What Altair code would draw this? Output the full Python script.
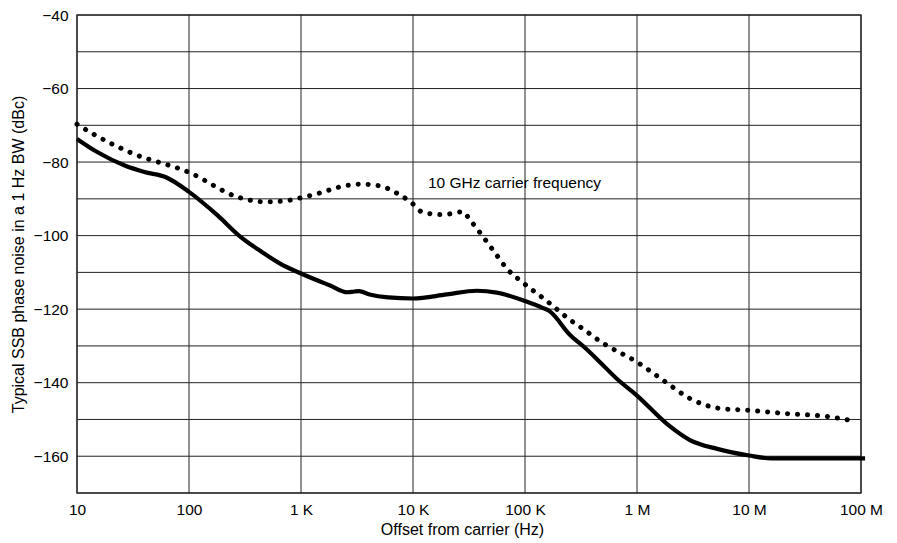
import altair as alt
import pandas as pd

# Solid curve (Hz, dBc)
solid_f = [10, 15, 27, 40, 63, 100, 180, 285, 450, 650, 1000, 1800, 2600, 3000, 3300,
           4100, 6000, 10000, 20000, 37000, 56000, 100000, 145000, 165000, 250000,
           355000, 470000, 664000, 1000000, 1850000, 2970000, 5200000, 10000000,
           16000000, 100000000, 108700000]
solid_v = [-73.7, -77.2, -81.0, -82.7, -84.2, -88.1, -94.5, -100.2, -104.5, -107.6,
           -110.3, -113.5, -115.4, -115.2, -115.1, -116.0, -116.8, -117.1, -116.0,
           -115.0, -115.5, -117.8, -119.7, -120.5, -126.9, -130.9, -134.5, -139.0,
           -143.5, -151.2, -155.6, -158.0, -159.8, -160.6, -160.6, -160.6]

# Dotted curve (Hz, dBc)
dot_f = [10, 15, 30, 100, 285, 475, 700, 1000, 1480, 2200, 3400, 5100, 7400, 9500,
         12300, 18600, 28000, 32000, 42000, 54000, 69000, 95000, 157000, 252000,
         310000, 500000, 1000000, 1780000, 2970000, 5500000, 10000000, 19600000,
         56000000, 85000000]
dot_v = [-69.7, -72.9, -77.4, -82.8, -89.7, -90.8, -90.6, -89.7, -88.4, -86.8, -86.0,
         -86.5, -88.7, -90.8, -93.7, -94.3, -93.5, -95.6, -100.2, -104.7, -109.0,
         -112.7, -117.8, -122.9, -124.8, -129.3, -134.4, -139.7, -144.3, -147.0,
         -147.5, -148.3, -149.4, -150.4]

x_ticks = [10, 100, 1000, 10000, 100000, 1000000, 10000000, 100000000]
x_labels = ["10", "100", "1 K", "10 K", "100 K", "1 M", "10 M", "100 M"]
y_grid = list(range(-170, -39, 10))
y_labels = list(range(-160, -39, 20))

note_text = ["10 GHz carrier frequency"]
note_f = [13600]
note_v = [-85.7]

FONT = "Liberation Sans Narrow, Liberation Sans, Arial"
LFS = 15.5
TFS = 16

solid = pd.DataFrame({"f": solid_f, "v": solid_v})
dotted = pd.DataFrame({"f": dot_f, "v": dot_v})
note = pd.DataFrame({"f": note_f, "v": note_v, "t": note_text})
hgrid = pd.DataFrame({"v": y_grid})
vgrid = pd.DataFrame({"f": x_ticks})

label_map = "{" + ",".join(f'"{v}":"{l}"' for v, l in zip(x_ticks, x_labels)) + "}"

x_scale = alt.Scale(type="log", domain=[10, 100000000], nice=False)
y_scale = alt.Scale(domain=[-170, -40], nice=False, zero=False)

H = 478

x_axis = alt.Axis(values=x_ticks, labelExpr=f"{label_map}[''+datum.value]",
                  grid=False, ticks=False, domain=False, labelPadding=9,
                  title="Offset from carrier (Hz)",
                  titleX=385, titleY=36, titleBaseline="middle",
                  labelFlush=False, labelOverlap=False)
y_axis = alt.Axis(values=y_labels, format="d",
                  grid=False, ticks=False, domain=False, labelPadding=9,
                  title="Typical SSB phase noise in a 1 Hz BW (dBc)",
                  titleX=-59, titleY=H / 2, titleAngle=-90, titleBaseline="middle",
                  titleAlign="center", labelFlush=False, labelOverlap=False)

hrules = alt.Chart(hgrid).mark_rule(color="#222", strokeWidth=1).encode(
    y=alt.Y("v:Q", scale=y_scale, axis=y_axis)
)
vrules = alt.Chart(vgrid).mark_rule(color="#222", strokeWidth=1).encode(
    x=alt.X("f:Q", scale=x_scale, axis=x_axis)
)

solid_line = alt.Chart(solid).mark_line(
    color="black", strokeWidth=4.2, interpolate="monotone", clip=False,
    strokeCap="butt"
).encode(x=alt.X("f:Q", scale=x_scale, axis=x_axis),
         y=alt.Y("v:Q", scale=y_scale, axis=y_axis))

dotted_line = alt.Chart(dotted).mark_line(
    color="black", strokeWidth=5, interpolate="monotone",
    strokeDash=[0.1, 9.9], strokeCap="round"
).encode(x=alt.X("f:Q", scale=x_scale, axis=x_axis),
         y=alt.Y("v:Q", scale=y_scale, axis=y_axis))

label = alt.Chart(note).mark_text(
    align="left", baseline="middle", fontSize=LFS, font=FONT, color="black"
).encode(x=alt.X("f:Q", scale=x_scale, axis=x_axis),
         y=alt.Y("v:Q", scale=y_scale, axis=y_axis), text="t:N")

chart = alt.layer(hrules, vrules, solid_line, dotted_line, label).properties(
    width=784, height=H,
    autosize=alt.AutoSizeParams(type="none"),
    padding={"left": 69, "top": 7, "right": 28, "bottom": 50},
).configure_view(
    stroke="#444", strokeWidth=1.5
).configure_axis(
    labelFont=FONT, labelFontSize=LFS, labelColor="black",
    titleFont=FONT, titleFontSize=TFS, titleFontWeight="normal", titleColor="black"
)

chart.save("out.html", embed_options={"renderer": "svg", "actions": False})
